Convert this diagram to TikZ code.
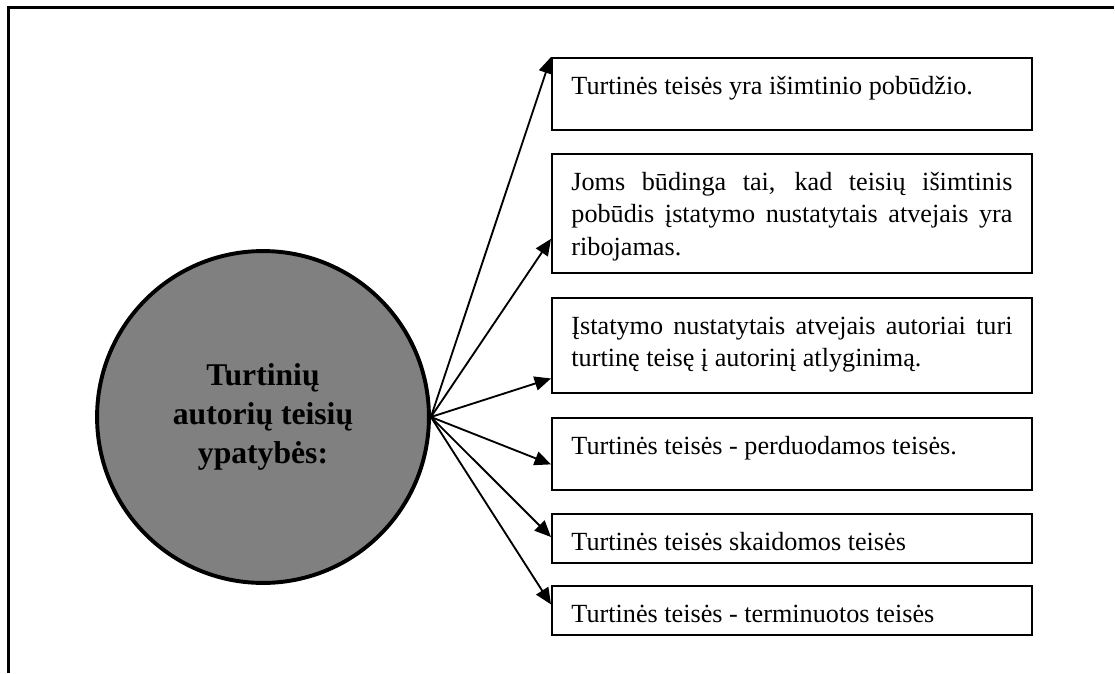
\documentclass[tikz,border=0pt]{standalone}
\usepackage{fontspec}
\setmainfont{Liberation Serif}
\usepackage{tikz}
\usetikzlibrary{arrows.meta,calc}
\tikzstyle{itembox}=[draw, line width=0.9pt, anchor=north west, text width=202pt,
  inner xsep=8.9pt, inner ysep=6pt, align=justify, text height=10.5pt,
  font=\fontsize{12}{14.9}\selectfont]
\tikzstyle{link}=[-{Triangle[length=7.5pt,width=6.5pt]}, line width=0.85pt]

\begin{document}
\begin{tikzpicture}[x=0.458pt, y=0.458pt]
        \useasboundingbox (0,0) rectangle (1115,673);
        \draw[line width=1.2pt] (8.5,0) -- (8.5,665.5) -- (1114,665.5);
        \node[circle, draw, line width=1.8pt, fill=gray, minimum size=152pt, align=center,
          font=\bfseries\fontsize{14.5}{17.9}\selectfont] (props) at (263,256)
          {Turtinių\\autorių teisių\\ypatybės:};
        \node[itembox, text depth=10.5pt] (b1) at (551,616) {Turtinės teisės yra išimtinio pobūdžio.};
        \node[itembox, text depth=32pt] (b2) at (551,520) {Joms būdinga tai, kad teisių išimtinis pobūdis įstatymo nustatytais atvejais yra ribojamas.};
        \node[itembox, text depth=21pt] (b3) at (551,376) {Įstatymo nustatytais atvejais autoriai turi turtinę teisę į autorinį atlyginimą.};
        \node[itembox, text depth=10.5pt] (b4) at (551,256) {Turtinės teisės - perduodamos teisės.};
        \node[itembox, text depth=0pt] (b5) at (551,160) {Turtinės teisės skaidomos teisės};
        \node[itembox, text depth=0pt] (b6) at (551,88) {Turtinės teisės - terminuotos teisės};
        \draw[link] (props.east) -- (b1.north west);
        \draw[link] (props.east) -- ($(b2.north west)!0.71!(b2.south west)$);
        \draw[link] (props.east) -- ($(b3.north west)!0.84!(b3.south west)$);
        \draw[link] (props.east) -- ($(b4.north west)!0.64!(b4.south west)$);
        \draw[link] (props.east) -- ($(b5.north west)!0.47!(b5.south west)$);
        \draw[link] (props.east) -- ($(b6.north west)!0.38!(b6.south west)$);
\end{tikzpicture}
\end{document}
